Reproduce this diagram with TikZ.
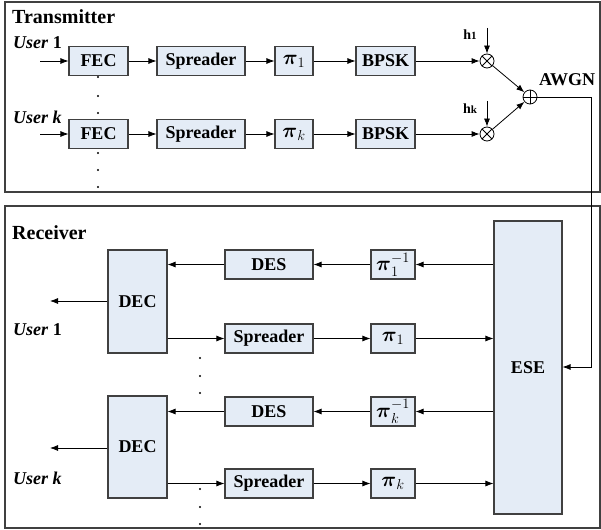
\documentclass[tikz,border=0pt]{standalone}
\usepackage{fontspec}
\setmainfont{Liberation Serif}
\usepackage{amsmath}
\usetikzlibrary{positioning,calc,arrows.meta}
\definecolor{BoxFill}{RGB}{228,236,246}
\newcommand{\PermSym}{\fontsize{21}{21}\selectfont$\boldsymbol{\pi}$}

\begin{document}
\begin{tikzpicture}[x=1pt,y=-1pt,
    Block/.style={draw=black!75,line width=1.1pt,fill=BoxFill,inner sep=0pt,minimum height=29pt,font=\fontsize{18}{18}\selectfont\bfseries},
    Frame/.style={draw=black!75,line width=1.3pt},
    Mixer/.style={draw,circle,line width=0.8pt,minimum size=14pt,inner sep=0pt},
    Link/.style={line width=0.8pt,-{Latex[length=8pt,width=6pt]}},
    Dot/.style={circle,fill=black,inner sep=0pt,minimum size=2.2pt},
    Label/.style={inner sep=0pt,anchor=west,font=\fontsize{18}{18}\selectfont\bfseries}]

      \useasboundingbox (0,0) rectangle (601,529);
      \draw [Frame] (5,2) rectangle (600,192);% transmitter frame
      \draw [Frame] (5,206) rectangle (600,528);% receiver frame

      % transmitter
      \node[Label,font=\fontsize{20}{20}\selectfont\bfseries] (TxTitle) at (12,17) {Transmitter};
      \node[Label] (TxUser1) at (13,43) {\textit{User} 1};
      \node[Label] (TxUserK) at (13,117) {\textit{User k}};
      \coordinate (In1) at (40,61);
      \coordinate (InK) at (40,134);

      \node[Block,minimum width=59pt] (Fec1)  at (98.5,61) {FEC};
      \node[Block,minimum width=88pt] (Spr1)  at (201,61) {Spreader};
      \node[Block,minimum width=38pt] (Pi1)   at (294,61) {\PermSym$_{1}$};
      \node[Block,minimum width=59pt] (Bpsk1) at (385.5,61) {BPSK};
      \node[Mixer] (Mul1) at (487,61) {};

      \node[Block,minimum width=59pt] (FecK)  at (98.5,134) {FEC};
      \node[Block,minimum width=88pt] (SprK)  at (201,134) {Spreader};
      \node[Block,minimum width=38pt] (PiK)   at (294,134) {\PermSym$_{k}$};
      \node[Block,minimum width=59pt] (BpskK) at (385.5,134) {BPSK};
      \node[Mixer] (MulK) at (487,134) {};

      \node[Mixer] (Sum) at (530,97) {};
      \draw [line width=0.8pt] (Mul1.north west) -- (Mul1.south east) (Mul1.north east) -- (Mul1.south west);
      \draw [line width=0.8pt] (MulK.north west) -- (MulK.south east) (MulK.north east) -- (MulK.south west);
      \draw [line width=0.8pt] (Sum.north) -- (Sum.south) (Sum.west) -- (Sum.east);

      \node[inner sep=0pt,font=\fontsize{14}{14}\selectfont\bfseries] (H1) at (470,35) {h{\fontsize{11}{11}\selectfont 1}};
      \node[inner sep=0pt,font=\fontsize{14}{14}\selectfont\bfseries] (HK) at (470,109) {h{\fontsize{11}{11}\selectfont k}};
      \coordinate (H1Top) at (487,28);
      \coordinate (HKTop) at (487,101);
      \node[inner sep=0pt,font=\fontsize{18}{18}\selectfont\bfseries] (Awgn) at (567,80) {AWGN};

      \draw [Link] (In1) -- (Fec1);
      \draw [Link] (Fec1) -- (Spr1);
      \draw [Link] (Spr1) -- (Pi1);
      \draw [Link] (Pi1) -- (Bpsk1);
      \draw [Link] (Bpsk1) -- (Mul1);
      \draw [Link] (InK) -- (FecK);
      \draw [Link] (FecK) -- (SprK);
      \draw [Link] (SprK) -- (PiK);
      \draw [Link] (PiK) -- (BpskK);
      \draw [Link] (BpskK) -- (MulK);
      \draw [Link] (H1Top) -- (Mul1.north);
      \draw [Link] (HKTop) -- (MulK.north);
      \draw [Link] (Mul1) -- (Sum);
      \draw [Link] (MulK) -- (Sum);

      \foreach \y in {77,96,113,153,170,187}
      {
        \node[Dot] (TxDot\y) at (98,\y) {};
      }

      % receiver
      \node[Label,font=\fontsize{20}{20}\selectfont\bfseries] (RxTitle) at (12,233) {Receiver};
      \node[Label] (RxUser1) at (13,330) {\textit{User} 1};
      \node[Label] (RxUserK) at (13,478) {\textit{User k}};
      \coordinate (Out1) at (50,301);
      \coordinate (OutK) at (50,448);

      \node[Block,minimum width=68pt,minimum height=293pt] (Ese) at (528,367.5) {ESE};

      \node[Block,minimum width=59pt,minimum height=103pt] (Dec1) at (137.5,301.5) {DEC};
      \node[Block,minimum width=88pt] (Des1)  at (269,264.5) {DES};
      \node[Block,minimum width=44pt] (PiInv1) at (393,264.5) {\PermSym$_{1}^{-1}$};
      \node[Block,minimum width=88pt] (Spr2)  at (269,338.5) {Spreader};
      \node[Block,minimum width=44pt] (PiR1)  at (393,338.5) {\PermSym$_{1}$};

      \node[Block,minimum width=59pt,minimum height=102pt] (DecK) at (137.5,447) {DEC};
      \node[Block,minimum width=88pt] (DesK)  at (269,411.5) {DES};
      \node[Block,minimum width=44pt] (PiInvK) at (393,411.5) {\PermSym$_{k}^{-1}$};
      \node[Block,minimum width=88pt] (Spr3)  at (269,483.5) {Spreader};
      \node[Block,minimum width=44pt] (PiRK)  at (393,483.5) {\PermSym$_{k}$};

      \draw [Link] (Ese.west |- PiInv1) -- (PiInv1);
      \draw [Link] (PiInv1) -- (Des1);
      \draw [Link] (Des1) -- (Dec1.east |- Des1);
      \draw [Link] (Dec1.east |- Spr2) -- (Spr2);
      \draw [Link] (Spr2) -- (PiR1);
      \draw [Link] (PiR1) -- (Ese.west |- PiR1);
      \draw [Link] (Dec1.west |- Out1) -- (Out1);

      \draw [Link] (Ese.west |- PiInvK) -- (PiInvK);
      \draw [Link] (PiInvK) -- (DesK);
      \draw [Link] (DesK) -- (DecK.east |- DesK);
      \draw [Link] (DecK.east |- Spr3) -- (Spr3);
      \draw [Link] (Spr3) -- (PiRK);
      \draw [Link] (PiRK) -- (Ese.west |- PiRK);
      \draw [Link] (DecK.west |- OutK) -- (OutK);

      \foreach \y in {358,376,393,489,507,524}
      {
        \node[Dot] (RxDot\y) at (200,\y) {};
      }

      % channel output back to the receiver
      \coordinate (FbTop) at (591,97);
      \coordinate (FbBot) at (591,367);
      \draw [Link] (Sum.east) -- (FbTop) -- (FbBot) -- (Ese.east |- FbBot);

\end{tikzpicture}
\end{document}
